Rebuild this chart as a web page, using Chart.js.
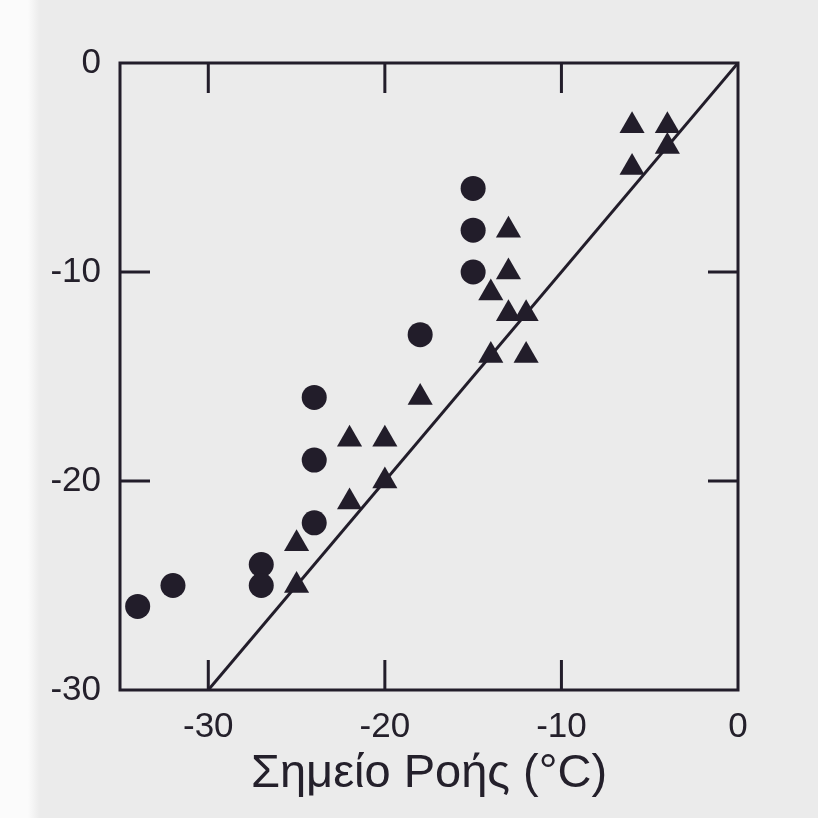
<!DOCTYPE html>
<html>
<head>
<meta charset="utf-8">
<script src="https://cdn.jsdelivr.net/npm/chart.js@4/dist/chart.umd.min.js"></script>
<style>
  html, body { margin: 0; padding: 0; background: #ebebeb; }
  body { width: 818px; height: 818px; overflow: hidden;
         background: linear-gradient(to right, #fbfbfb 0px, #fbfbfb 28px, #ebebeb 40px); }
  #wrap { width: 818px; height: 818px; position: relative; }
</style>
</head>
<body>
<div id="wrap"><canvas id="c" width="818" height="818"></canvas></div>
<script>
// ---- data ----
const circleX = [-34, -32, -27, -27, -24, -24, -24, -18, -15, -15, -15];
const circleY = [-26, -25, -24, -25, -22, -19, -16, -13, -10, -8, -6];

const triangleX = [-6, -4, -6, -4, -13, -13, -14, -13, -12, -14, -12, -18, -22, -20, -20, -22, -25, -25];
const triangleY = [-3, -3, -5, -4, -8, -10, -11, -12, -12, -14, -14, -16, -18, -18, -20, -21, -23, -25];

const lineX = [-30, 0];
const lineY = [-30, 0];

const xTickLabels = [-30, -20, -10, 0];
const yTickLabels = [-30, -20, -10, 0];
const xTitle = 'Σημείο Ροής (°C)';

// ---- chart ----
const ink = '#221d2a';
const textInk = '#24202b';
const fontFam = 'Liberation Sans, Arial, sans-serif';
const toPts = (xs, ys) => xs.map((x, i) => ({ x: x, y: ys[i] }));

const inwardTicks = {
  id: 'inwardTicks',
  afterDatasetsDraw(chart) {
    const ctx = chart.ctx;
    const a = chart.chartArea;
    const L = 30;
    const xs = chart.scales.x, ys = chart.scales.y;
    ctx.save();
    ctx.strokeStyle = ink;
    ctx.lineWidth = 3;
    ctx.beginPath();
    xTickLabels.forEach(v => {
      const px = xs.getPixelForValue(v);
      if (px > a.left + 1 && px < a.right - 1) {
        ctx.moveTo(px, a.bottom); ctx.lineTo(px, a.bottom - L);
        ctx.moveTo(px, a.top); ctx.lineTo(px, a.top + L);
      }
    });
    yTickLabels.forEach(v => {
      const py = ys.getPixelForValue(v);
      if (py > a.top + 1 && py < a.bottom - 1) {
        ctx.moveTo(a.left, py); ctx.lineTo(a.left + L, py);
        ctx.moveTo(a.right, py); ctx.lineTo(a.right - L, py);
      }
    });
    ctx.stroke();
    ctx.strokeRect(a.left, a.top, a.right - a.left, a.bottom - a.top);
    ctx.restore();
  }
};

new Chart(document.getElementById('c'), {
  type: 'scatter',
  data: {
    datasets: [
      {
        type: 'line',
        data: toPts(lineX, lineY),
        borderColor: ink,
        borderWidth: 3,
        pointRadius: 0,
        fill: false,
        order: 3
      },
      {
        data: toPts(circleX, circleY),
        pointStyle: 'circle',
        pointRadius: 12.5,
        backgroundColor: ink,
        borderColor: ink,
        borderWidth: 0,
        order: 1
      },
      {
        data: toPts(triangleX, triangleY),
        pointStyle: 'triangle',
        pointRadius: 14.5,
        backgroundColor: ink,
        borderColor: ink,
        borderWidth: 0,
        order: 2
      }
    ]
  },
  options: {
    responsive: false,
    animation: false,
    events: [],
    layout: { padding: { left: 20, right: 80, top: 63, bottom: 0 } },
    plugins: { legend: { display: false }, tooltip: { enabled: false } },
    scales: {
      x: {
        type: 'linear',
        min: -35, max: 0,
        afterBuildTicks: s => { s.ticks = xTickLabels.map(v => ({ value: v })); },
        afterFit: s => { s.height = 128; },
        grid: { display: false, drawTicks: false },
        border: { display: false },
        ticks: { padding: 16, color: textInk, font: { family: fontFam, size: 35 } },
        title: {
          display: true, text: xTitle, color: textInk,
          font: { family: fontFam, size: 47 },
          padding: { top: 0, bottom: 16 }
        }
      },
      y: {
        type: 'linear',
        min: -30, max: 0,
        afterBuildTicks: s => { s.ticks = yTickLabels.map(v => ({ value: v })); },
        afterFit: s => { s.width = 100; },
        grid: { display: false, drawTicks: false },
        border: { display: false },
        ticks: { padding: 19, color: textInk, font: { family: fontFam, size: 35 } }
      }
    }
  },
  plugins: [inwardTicks]
});
</script>
</body>
</html>
